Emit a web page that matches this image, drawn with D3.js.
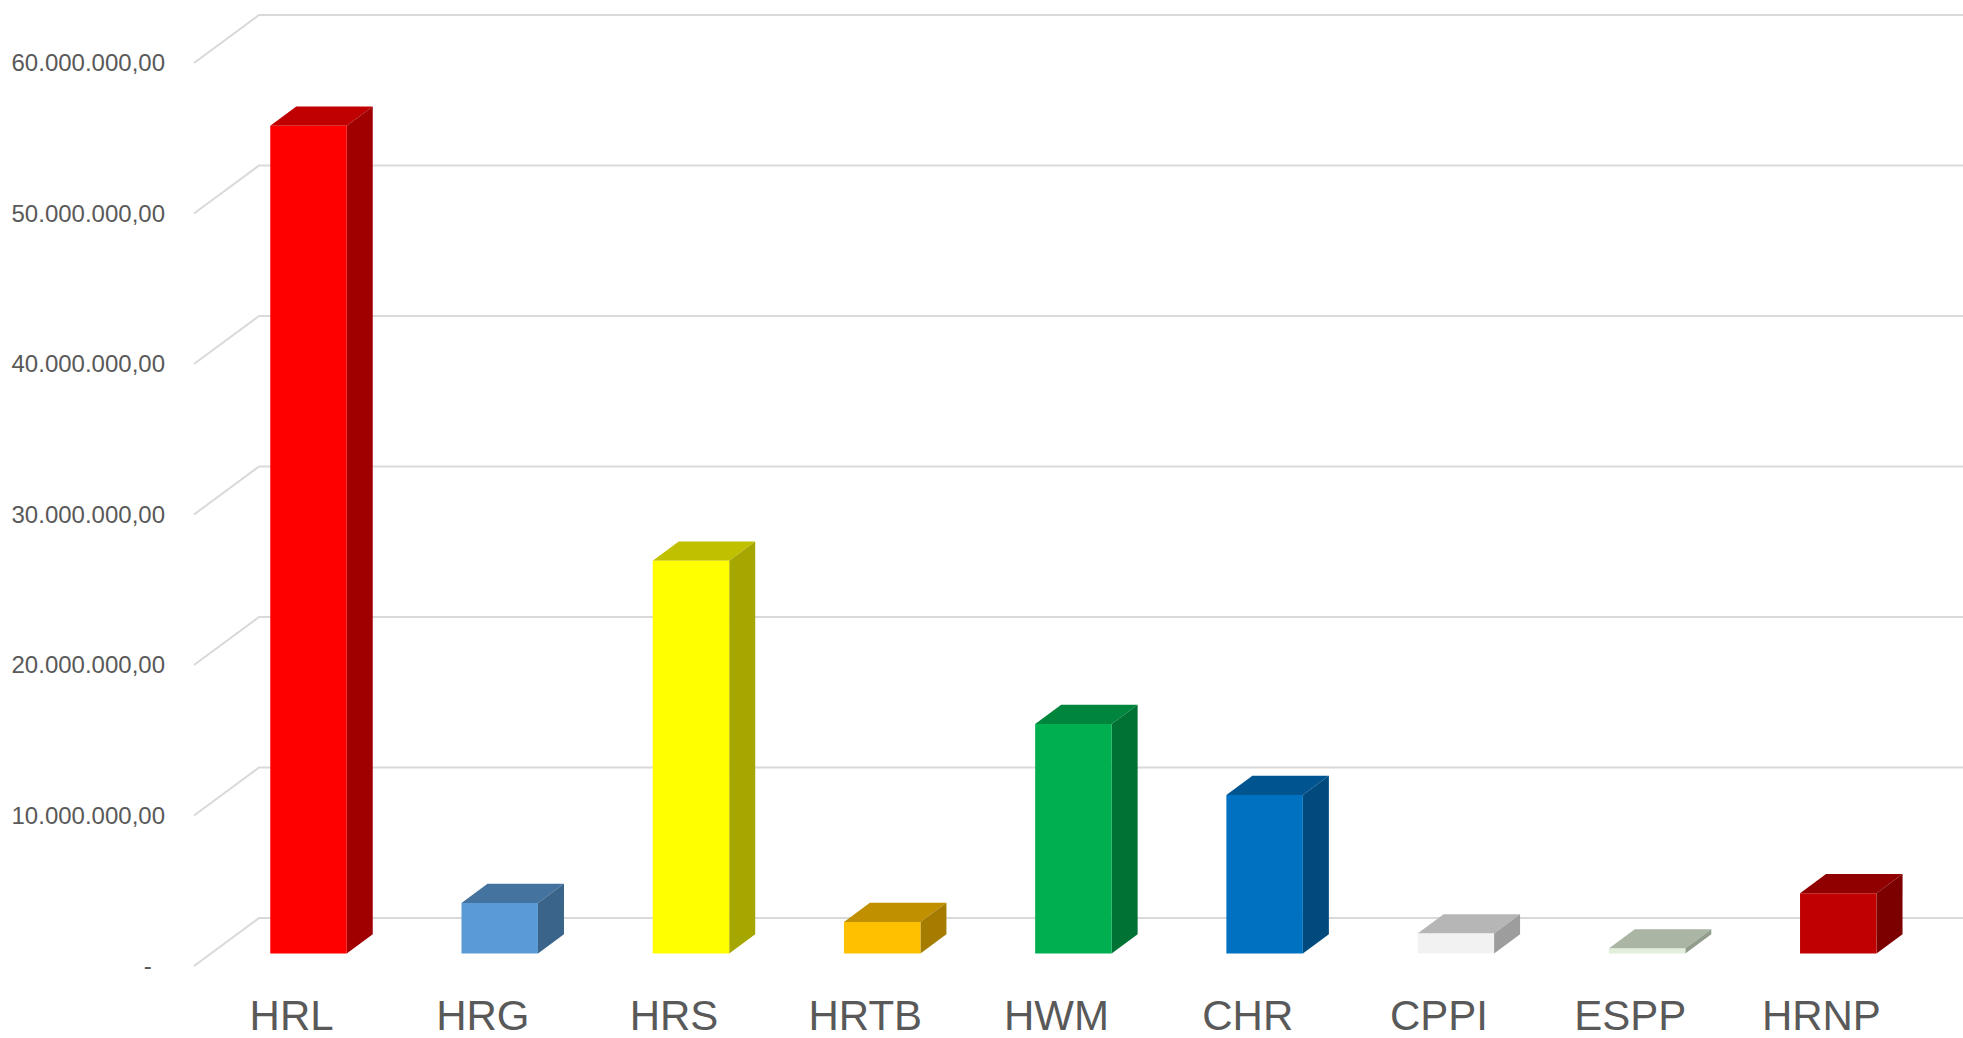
<!DOCTYPE html>
<html>
<head>
<meta charset="utf-8">
<script src="https://cdn.jsdelivr.net/npm/d3@7"></script>
<style>
  html, body { margin: 0; padding: 0; background: #fff; overflow: hidden; }
  text { font-family: "Liberation Sans", Arial, sans-serif; fill: #595959; }
</style>
</head>
<body>
<svg id="chart"></svg>
<script>
// data
const categories = ['HRL', 'HRG', 'HRS', 'HRTB', 'HWM', 'CHR', 'CPPI', 'ESPP', 'HRNP'];
const values = [55000000, 3360000, 26100000, 2100000, 15250000, 10530000, 1330000, 330000, 4000000];
const tickValues = [0, 10000000, 20000000, 30000000, 40000000, 50000000, 60000000];
const tickLabels = ['-\u2007', '10.000.000,00', '20.000.000,00', '30.000.000,00', '40.000.000,00', '50.000.000,00', '60.000.000,00'];
const frontColors = ['#FF0000', '#5B9BD5', '#FFFF00', '#FFC000', '#00B050', '#0070C0', '#F2F2F2', '#E2EFDA', '#C00000'];
const topColors = ['#C00000', '#44739F', '#C0C000', '#C09000', '#00853C', '#005591', '#B6B6B6', '#AAB5A4', '#910000'];
const sideColors = ['#A00000', '#3A6489', '#A6A600', '#A57C00', '#007233', '#004A7E', '#9D9D9D', '#929C8D', '#7C0000'];

const width = 1963, height = 1038;
const svg = d3.select('#chart').attr('width', width).attr('height', height);

// front plane of the 3d box
const x0 = 196, x1 = 1917;
const depthX = 65, depthY = -48;
const barFront = 0.26, barBack = 0.66;

const x = d3.scaleBand()
    .domain(categories)
    .range([x0, x1])
    .paddingInner(0.6)
    .paddingOuter(0.3);

const y = d3.scaleLinear()
    .domain([0, 60000000])
    .range([966, 63]);

const px = (vx, d) => vx + d * depthX;
const py = (vy, d) => vy + d * depthY;

// gridlines: left wall diagonal + back wall
const grid = svg.append('g').attr('class', 'grid')
    .attr('stroke', '#d9d9d9').attr('stroke-width', 2).attr('fill', 'none');

grid.selectAll('path')
    .data(tickValues)
    .enter()
    .append('path')
    .attr('d', d => `M${px(x0 - 2, 0)},${py(y(d), 0)}L${px(x0 - 2, 1)},${py(y(d), 1)}L${px(x1, 1) + 40},${py(y(d), 1)}`);

// y tick labels
svg.append('g').attr('class', 'ylabels')
    .selectAll('text')
    .data(tickValues)
    .enter()
    .append('text')
    .attr('x', 165)
    .attr('y', d => y(d))
    .attr('dy', '0.35em')
    .attr('text-anchor', 'end')
    .attr('font-size', 24)
    .text((d, i) => tickLabels[i]);

// bars
const bars = svg.append('g').attr('class', 'bars')
    .selectAll('g')
    .data(categories)
    .enter()
    .append('g');

bars.each(function (c, i) {
    const g = d3.select(this);
    const l = x(c), r = x(c) + x.bandwidth();
    const yb = y(0), yt = y(values[i]);
    const pt = (vx, vy, d) => `${px(vx, d)},${py(vy, d)}`;

    // top face
    g.append('polygon')
        .attr('points', [pt(l, yt, barFront), pt(r, yt, barFront), pt(r, yt, barBack), pt(l, yt, barBack)].join(' '))
        .attr('fill', topColors[i]);
    // side face
    g.append('polygon')
        .attr('points', [pt(r, yt, barFront), pt(r, yt, barBack), pt(r, yb, barBack), pt(r, yb, barFront)].join(' '))
        .attr('fill', sideColors[i]);
    // front face
    g.append('polygon')
        .attr('points', [pt(l, yt, barFront), pt(r, yt, barFront), pt(r, yb, barFront), pt(l, yb, barFront)].join(' '))
        .attr('fill', frontColors[i]);
});

// category labels
svg.append('g').attr('class', 'xlabels')
    .selectAll('text')
    .data(categories)
    .enter()
    .append('text')
    .attr('x', d => x(d) + x.bandwidth() / 2)
    .attr('y', 1030)
    .attr('text-anchor', 'middle')
    .attr('font-size', 42)
    .text(d => d);
</script>
</body>
</html>
